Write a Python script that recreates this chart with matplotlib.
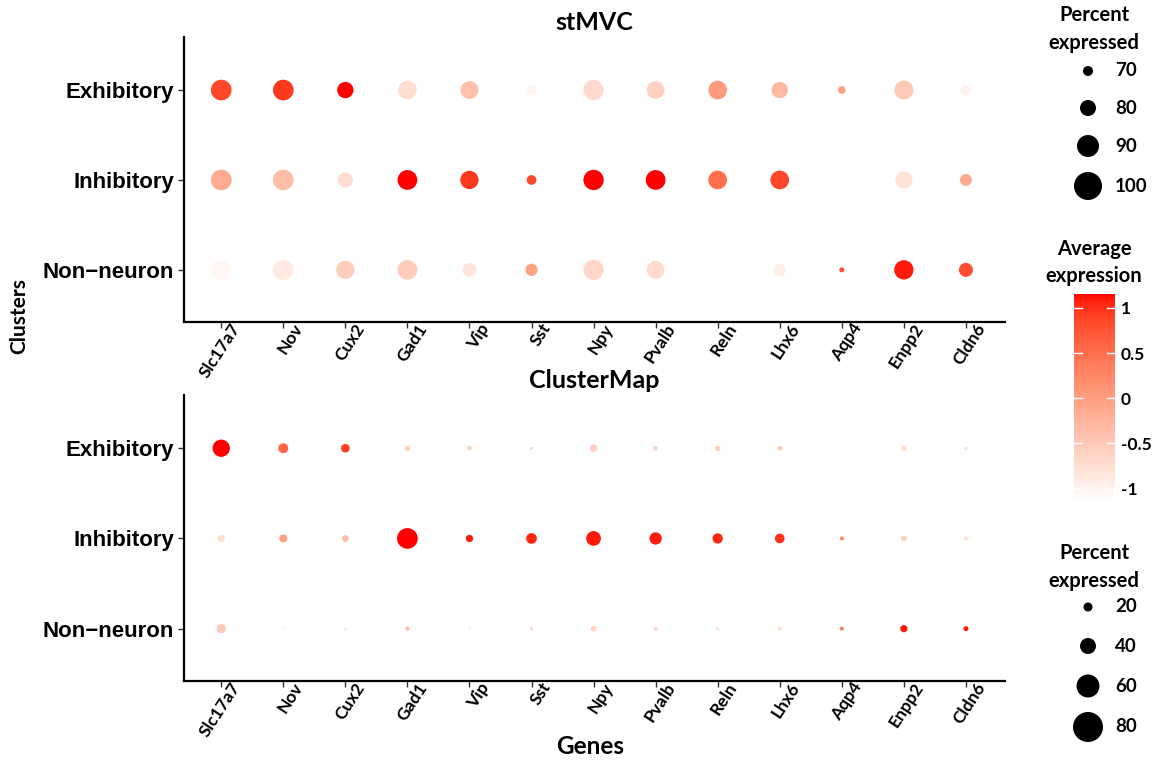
import numpy as np
import matplotlib
matplotlib.use("Agg")
import matplotlib.pyplot as plt
from matplotlib.colors import ListedColormap, Normalize
import matplotlib.colorbar as mcolorbar
from matplotlib.transforms import ScaledTranslation, blended_transform_factory

# ---------------- data ----------------
genes = ["Slc17a7", "Nov", "Cux2", "Gad1", "Vip", "Sst", "Npy", "Pvalb",
         "Reln", "Lhx6", "Aqp4", "Enpp2", "Cldn6"]
clusters = ["Exhibitory", "Inhibitory", "Non\u2212neuron"]

# stMVC: percent expressed
top_pct_exh = [87.8, 87.8, 80.5, 84.5, 83.3, 71.2, 87.2, 82.8, 84.5, 80.5, 66.2, 85.0, 72.2]
top_pct_inh = [87.8, 87.8, 78.8, 86.2, 83.8, 69.5, 87.2, 86.2, 84.5, 84.5, 55.0, 82.2, 73.3]
top_pct_non = [87.8, 87.8, 83.8, 86.2, 76.7, 73.8, 87.2, 82.8, 84.0, 73.8, 61.7, 85.5, 76.7]
# stMVC: average expression (scaled)
top_avg_exh = [0.85, 0.95, 1.15, -0.75, -0.40, -1.05, -0.70, -0.60, 0.05, -0.30, -0.05, -0.50, -1.00]
top_avg_inh = [-0.15, -0.35, -0.75, 1.15, 0.95, 0.85, 1.15, 1.15, 0.50, 0.85, -1.00, -0.80, -0.15]
top_avg_non = [-1.05, -0.90, -0.55, -0.55, -0.85, -0.05, -0.65, -0.70, -1.15, -0.95, 0.80, 1.10, 0.80]

# ClusterMap: percent expressed
bot_pct_exh = [43.7, 22.9, 19.1, 10.6, 7.7, 2.0, 16.3, 7.7, 10.6, 7.7, 0.0, 9.4, 4.9]
bot_pct_inh = [15.1, 17.1, 13.4, 53.4, 15.1, 24.9, 36.3, 29.4, 23.7, 22.0, 5.7, 11.4, 5.7]
bot_pct_non = [20.9, 8.6, 4.9, 6.6, 0.9, 2.9, 10.6, 6.6, 3.7, 4.9, 5.7, 15.1, 8.6]
# ClusterMap: average expression (scaled)
bot_avg_exh = [1.15, 0.60, 0.90, -0.60, -0.60, -0.50, -0.60, -0.60, -0.60, -0.50, -1.15, -0.70, -0.80]
bot_avg_inh = [-0.75, 0.00, -0.35, 1.15, 1.10, 1.05, 1.10, 1.10, 1.05, 1.00, 0.30, -0.60, -0.70]
bot_avg_non = [-0.50, -1.05, -0.90, -0.40, -0.90, -0.60, -0.60, -0.70, -0.80, -0.70, 0.40, 1.10, 1.10]

top_legend_breaks = [70, 80, 90, 100]
bot_legend_breaks = [20, 40, 60, 80]
cbar_ticks = [-1, -0.5, 0, 0.5, 1]
cbar_labels = ["-1", "-0.5", "0", "0.5", "1"]
vmin, vmax = -1.15, 1.155

# ---------------- colour map: white -> red in Lab (like ggplot) ----------------
def _srgb_to_lab(rgb):
    rgb = np.asarray(rgb, float)
    lin = np.where(rgb <= 0.04045, rgb / 12.92, ((rgb + 0.055) / 1.055) ** 2.4)
    M = np.array([[0.4124, 0.3576, 0.1805], [0.2126, 0.7152, 0.0722], [0.0193, 0.1192, 0.9505]])
    xyz = M @ lin
    wp = np.array([0.95047, 1.0, 1.08883])
    t = xyz / wp
    f = np.where(t > (6 / 29) ** 3, np.cbrt(t), t / (3 * (6 / 29) ** 2) + 4 / 29)
    return np.array([116 * f[1] - 16, 500 * (f[0] - f[1]), 200 * (f[1] - f[2])])

def _lab_to_srgb(lab):
    L, a, b = lab
    fy = (L + 16) / 116
    fx = fy + a / 500
    fz = fy - b / 200
    def finv(f):
        return np.where(f > 6 / 29, f ** 3, 3 * (6 / 29) ** 2 * (f - 4 / 29))
    wp = np.array([0.95047, 1.0, 1.08883])
    xyz = np.array([finv(fx), finv(fy), finv(fz)]) * wp
    Minv = np.array([[3.2406, -1.5372, -0.4986], [-0.9689, 1.8758, 0.0415], [0.0557, -0.2040, 1.0570]])
    lin = Minv @ xyz
    lin = np.clip(lin, 0, 1)
    srgb = np.where(lin <= 0.0031308, 12.92 * lin, 1.055 * lin ** (1 / 2.4) - 0.055)
    return np.clip(srgb, 0, 1)

lab_w = _srgb_to_lab([1, 1, 1])
lab_r = _srgb_to_lab([1, 0, 0])
cols = [_lab_to_srgb(lab_w + (lab_r - lab_w) * t) for t in np.linspace(0, 1, 256)]
cmap = ListedColormap(cols)
norm = Normalize(vmin=vmin, vmax=vmax)

# ---------------- size scales ----------------
def top_size(p):
    d = 10 + (np.asarray(p, float) - 70) * 0.6
    d = np.clip(d, 0.5, None)
    return (d * 0.72) ** 2

def bot_size(p):
    d = 9 + (np.asarray(p, float) - 20) * 0.35
    d = np.clip(d, 0.5, None)
    return (d * 0.72) ** 2

# ---------------- figure ----------------
W, H = 1154, 760
fig = plt.figure(figsize=(W / 100, H / 100), dpi=100)

arial = ["Liberation Sans", "DejaVu Sans"]
cal = ["Lato", "DejaVu Sans"]
narrow = ["Liberation Sans Narrow", "Lato", "DejaVu Sans"]

def px_axes(l, t, r, b):
    return fig.add_axes([l / W, 1 - b / H, (r - l) / W, (b - t) / H])

def dot_panel(ax, pcts, avgs, size_fn, title):
    x = np.arange(len(genes))
    for i, (p, a) in enumerate(zip(pcts, avgs)):
        ax.scatter(x, np.full(len(genes), i), s=size_fn(p), c=a, cmap=cmap, norm=norm,
                   linewidths=0, zorder=3)
    ax.set_xlim(-0.6, len(genes) - 1 + 0.63)
    ax.set_ylim(len(clusters) - 1 + 0.58, -0.59)
    ax.set_xticks(x)
    ax.set_xticklabels([])
    ax.set_yticks(range(len(clusters)))
    ax.set_yticklabels(clusters, fontfamily=arial, fontweight="bold", fontsize=16)
    tr = blended_transform_factory(ax.transData, ax.transAxes) + \
        ScaledTranslation(16 / 100, -3 / 100, fig.dpi_scale_trans)
    for xi, g in zip(x, genes):
        ax.text(xi, 0, g, transform=tr, fontfamily=cal, fontweight="bold", fontsize=12.5,
                rotation=57, ha="right", va="center", rotation_mode="anchor", clip_on=False)
    ax.tick_params(axis="x", pad=1, length=4, width=1, color="#333333")
    ax.tick_params(axis="y", pad=3, length=4, width=1, color="#333333")
    for s in ["top", "right"]:
        ax.spines[s].set_visible(False)
    for s in ["left", "bottom"]:
        ax.spines[s].set_linewidth(1.6)
        ax.spines[s].set_color("black")
    ax.set_title(title, fontfamily=cal, fontweight="bold", fontsize=18, pad=5)

ax1 = px_axes(184, 37, 1005, 322)
dot_panel(ax1, [top_pct_exh, top_pct_inh, top_pct_non],
          [top_avg_exh, top_avg_inh, top_avg_non], top_size, "stMVC")
ax2 = px_axes(184, 395, 1005, 681)
dot_panel(ax2, [bot_pct_exh, bot_pct_inh, bot_pct_non],
          [bot_avg_exh, bot_avg_inh, bot_avg_non], bot_size, "ClusterMap")

fig.text(19 / W, 1 - 316 / H, "Clusters", rotation=90, ha="center", va="center",
         fontfamily=narrow, fontweight="bold", fontsize=15)
fig.text(590 / W, 1 - 746 / H, "Genes", ha="center", va="center",
         fontfamily=cal, fontweight="bold", fontsize=17.5)

# ---------------- legends ----------------
lax = fig.add_axes([0, 0, 1, 1], facecolor="none")
lax.set_xlim(0, W)
lax.set_ylim(H, 0)
lax.axis("off")

def size_legend(title_y, ys, breaks, size_fn):
    lax.text(1094, title_y, "Percent", ha="center", va="center", fontfamily=cal,
             fontweight="bold", fontsize=14.5)
    lax.text(1094, title_y + 28, "expressed", ha="center", va="center", fontfamily=cal,
             fontweight="bold", fontsize=14.5)
    lax.scatter(np.full(len(breaks), 1088), ys, s=size_fn(breaks), c="black", linewidths=0)
    for yy, b in zip(ys, breaks):
        lax.text(1115, yy, str(b), ha="left", va="center", fontfamily=cal,
                 fontweight="bold", fontsize=13.5)

size_legend(15, [71, 108, 146, 186], top_legend_breaks, top_size)
size_legend(553, [607, 646, 686, 727], bot_legend_breaks, bot_size)

lax.text(1094, 249, "Average", ha="center", va="center", fontfamily=cal,
         fontweight="bold", fontsize=14.5)
lax.text(1094, 276, "expression", ha="center", va="center", fontfamily=cal,
         fontweight="bold", fontsize=14.5)

cax = px_axes(1074, 294, 1115, 502)
cb = mcolorbar.ColorbarBase(cax, cmap=cmap, norm=norm, orientation="vertical")
cb.outline.set_visible(False)
cb.set_ticks(cbar_ticks)
cb.set_ticklabels(cbar_labels)
cax.tick_params(axis="y", length=0, pad=4)
for lbl in cax.get_yticklabels():
    lbl.set_fontfamily(cal)
    lbl.set_fontweight("bold")
    lbl.set_fontsize(12.5)
for t in cbar_ticks:
    cax.plot([0, 0.2], [t, t], color="white", lw=1, transform=cax.get_yaxis_transform())
    cax.plot([0.8, 1.0], [t, t], color="white", lw=1, transform=cax.get_yaxis_transform())

fig.savefig("out.png", dpi=100, facecolor="white")
